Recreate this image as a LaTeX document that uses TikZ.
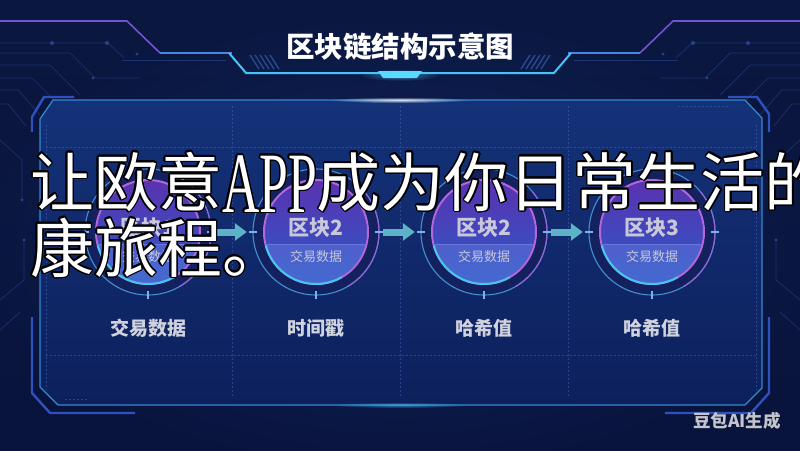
\documentclass[tikz,border=0pt]{standalone}
\usepackage{fontspec}
\setmainfont{Noto Sans CJK SC}
\newfontfamily\appfont{Liberation Serif}
\usepackage[copies]{contour}
\contourlength{1.3pt}
\contournumber{24}
\usetikzlibrary{arrows.meta,fadings}
\tikzfading[name=glowfade, inner color=transparent!0, outer color=transparent!100]

\definecolor{bgtop}{HTML}{0A173F}
\definecolor{bgmid}{HTML}{0E2158}
\definecolor{bgbot}{HTML}{09143C}
\definecolor{glowbg}{HTML}{1A3A8C}
\definecolor{panelTop}{HTML}{143279}
\definecolor{panelBot}{HTML}{0D205C}
\definecolor{cyanline}{HTML}{3A9CE6}
\definecolor{cyanbright}{HTML}{48C4F8}
\definecolor{hlblue}{HTML}{4A86E0}
\definecolor{purpline}{HTML}{7452D6}
\definecolor{bracketc}{HTML}{3050C0}
\definecolor{gridc}{HTML}{3C5CB0}
\definecolor{circc}{HTML}{3A5AB8}
\definecolor{hatchc}{HTML}{3A6CC0}
\definecolor{tabc}{HTML}{5AD8FF}
\definecolor{ringbg}{HTML}{13225F}
\definecolor{ringout}{HTML}{4290CC}
\definecolor{ringpurp}{HTML}{9A62D8}
\definecolor{ringin}{HTML}{B466DC}
\definecolor{cyanrim}{HTML}{44C8EC}
\definecolor{discTop}{HTML}{5A32B0}
\definecolor{discMid}{HTML}{3E3EB0}
\definecolor{discBot}{HTML}{2C5AC8}
\definecolor{bandc}{HTML}{7A90E8}
\definecolor{tickc}{HTML}{7AB4E8}
\definecolor{arrowc}{HTML}{5CB2C6}
\definecolor{labelc}{HTML}{D0D2DE}
\definecolor{blktext}{HTML}{C8C8DA}
\definecolor{wmc}{HTML}{C4C4CC}

\tikzset{
  blk/.style={circle, minimum size=130pt, inner sep=0pt},
  arr/.style={line width=7pt, draw=arrowc, -{Triangle[width=17pt,length=12pt]}, shorten <=2pt, shorten >=4pt},
  lbl/.style={font={\bfseries\fontsize{19}{19}\selectfont}, text=labelc, inner sep=0pt},
  blkname/.style={font={\bfseries\fontsize{21}{21}\selectfont}, text=blktext, inner sep=0pt},
  blksub/.style={font={\fontsize{13}{13}\selectfont}, text=blktext, inner sep=0pt},
  titlec/.style={font={\bfseries\fontsize{28.5}{28.5}\selectfont}, text=white, inner sep=0pt},
  wm/.style={font={\bfseries\fontsize{17.5}{17.5}\selectfont}, text=wmc, inner sep=0pt},
  ovl/.style={font={\fontsize{64}{64}\selectfont}, text=white, inner sep=0pt},
  gridline/.style={draw=gridc, line width=0.6pt, dash pattern=on 2pt off 2pt, opacity=0.6},
  circ/.style={draw=circc, line width=0.7pt, opacity=0.4},
  bracket/.style={draw=bracketc, line width=2.4pt, line join=miter},
}

\newcommand\headerhalf{%
  \draw[purpline, line width=1.6pt] (0,21) -- (127,21) -- (160,53);
  \draw[hlblue, line width=1.6pt] (160,53) -- (232,53);
  \draw[cyanbright, line width=2pt] (229,53) -- (246,73) -- (380,73);
  \draw[circ] (122,60) -- (226,60);
  \foreach \i in {0,...,4} \draw[hatchc, line width=1.4pt, opacity=0.6] ({250+5*\i},55) -- ({259+5*\i},69);
  \draw[circ] (0,43) -- (108,43) -- (124,58);
  \fill[circc, opacity=0.6] (52,43) circle (2pt) (107,43) circle (2pt) (137,54) circle (1.6pt);
  \draw[circ] (0,53) -- (70,53) -- (95,78) -- (140,78);
  \fill[circc, opacity=0.6] (93,78) circle (1.6pt);
  \draw[circ] (0,65) -- (50,65) -- (80,95);
  \draw[circ] (0,78) -- (32,78) -- (62,108);
  \draw[circ] (0,90) -- (18,90) -- (40,115);
  \draw[circ] (0,104) -- (8,104) -- (26,126);
  \draw[circ] (0,140) -- (22,160) -- (22,200);
  \draw[circ] (0,300) -- (24,280) -- (24,240);
  \draw[circ] (0,330) -- (20,312);
  \fill[circc, opacity=0.6] (24,240) circle (1.6pt) (22,200) circle (1.6pt);
}

\newcommand\drawblock[3]{%
  \node[blk] (#1) at (#2,232) {};
  \fill[ringbg] (#1.center) circle (63pt);
  \draw[ringout, line width=1.1pt] (#1.center) circle (63pt);
  \draw[ringpurp, line width=1.1pt] (#1.center) ++(-60:63pt) arc (-60:40:63pt);
  \foreach \a in {0,180,270} \draw[tickc, line width=1.3pt] (#1.center) ++(\a:59pt) -- ++(\a:8pt);
  \shade[top color=discTop, middle color=discMid, bottom color=discBot] (#1.center) circle (51pt);
  \begin{scope}
    \clip (#1.center) circle (51pt);
    \fill[bandc, opacity=0.3] (#2-70,244) -- (#2+70,244) -- (#2+70,300) -- (#2-70,300) -- cycle;
    \draw[bandc, opacity=0.5, line width=0.8pt] (#2-70,244) -- (#2+70,244);
  \end{scope}
  \draw[ringin, line width=2pt] (#1.center) circle (52pt);
  \draw[cyanrim, line width=2pt] (#1.center) ++(195:52pt) arc (195:300:52pt);
  \node[blkname] (#1n) at (#2,228) {区块#3};
  \node[blksub] (#1s) at (#2,257) {交易数据};
}

\begin{document}
\begin{tikzpicture}[x=1pt,y=-1pt]
\useasboundingbox (0,0) rectangle (800,450);
% background
\shade[top color=bgtop, middle color=bgmid, bottom color=bgbot] (0,0) rectangle (800,450);
\fill[glowbg, opacity=0.4, path fading=glowfade] (400,240) ellipse (440 and 240);

% header decorations
\headerhalf
\begin{scope}[xshift=800pt, xscale=-1]
  \headerhalf
\end{scope}
\fill[tabc] (378,71) -- (422,71) -- (417,78) -- (383,78) -- cycle;
\fill[tabc, opacity=0.5, path fading=glowfade] (400,75) ellipse (40 and 6);

% title
\node[titlec] (title) at (400,47) {区块链结构示意图};

% panel
\shade[top color=panelTop, bottom color=panelBot]
  (53,100) -- (745,100) -- (762,118) -- (762,388) -- (745,405) -- (58,405) -- (40,387) -- (40,119) -- cycle;
\draw[cyanline, line width=1.2pt, opacity=0.85]
  (53,100) -- (745,100) -- (762,118) -- (762,388) -- (745,405) -- (58,405) -- (40,387) -- (40,119) -- cycle;
\fill[white, opacity=0.8, path fading=glowfade] (400,100) ellipse (70 and 3);
\fill[cyanbright, opacity=0.6, path fading=glowfade] (400,405) ellipse (70 and 3);

% outer brackets
\draw[bracket] (32,132) -- (32,117) -- (44,97) -- (74,97);
\draw[bracket] (728,97) -- (757,97) -- (769,114) -- (769,132);
\draw[bracket] (32,317) -- (32,393) -- (50,413) -- (135,413);
\draw[bracket] (769,317) -- (769,393) -- (751,413) -- (665,413);

% inner grid
\draw[gridline] (46,147) -- (756,147);
\draw[gridline] (46,355) -- (756,355);
\draw[gridline] (46,125) -- (46,390);
\draw[gridline] (756,125) -- (756,390);
\draw[gridline] (232,106) -- (232,398);
\draw[gridline] (400,106) -- (400,398);
\draw[gridline] (568,106) -- (568,398);
\draw[gridline] (678,106) -- (728,106);
\draw[gridline] (65,399) -- (88,399);

% blocks
\drawblock{b1}{148}{1}
\drawblock{b2}{316}{2}
\drawblock{b3}{484}{2}
\drawblock{b4}{652}{3}

% arrows
\draw[arr] (b1) -- (b2);
\draw[arr] (b2) -- (b3);
\draw[arr] (b3) -- (b4);

% labels
\node[lbl] (l1) at (148,328) {交易数据};
\node[lbl] (l2) at (316,328) {时间戳};
\node[lbl] (l3) at (484,328) {哈希值};
\node[lbl] (l4) at (652,328) {哈希值};

% watermark
\node[wm] (wm) at (737,421) {豆包AI生成};

% overlay text
\node[ovl, anchor=base west] (t1) at (30,206) {\contour{black}{让欧意\raisebox{-6pt}{\scalebox{0.6}[1]{\fontsize{86}{86}\appfont APP}}成为你日常生活的}};
\node[ovl, anchor=base west] (t2) at (30,272) {\contour{black}{康旅程。}};
\end{tikzpicture}
\end{document}
